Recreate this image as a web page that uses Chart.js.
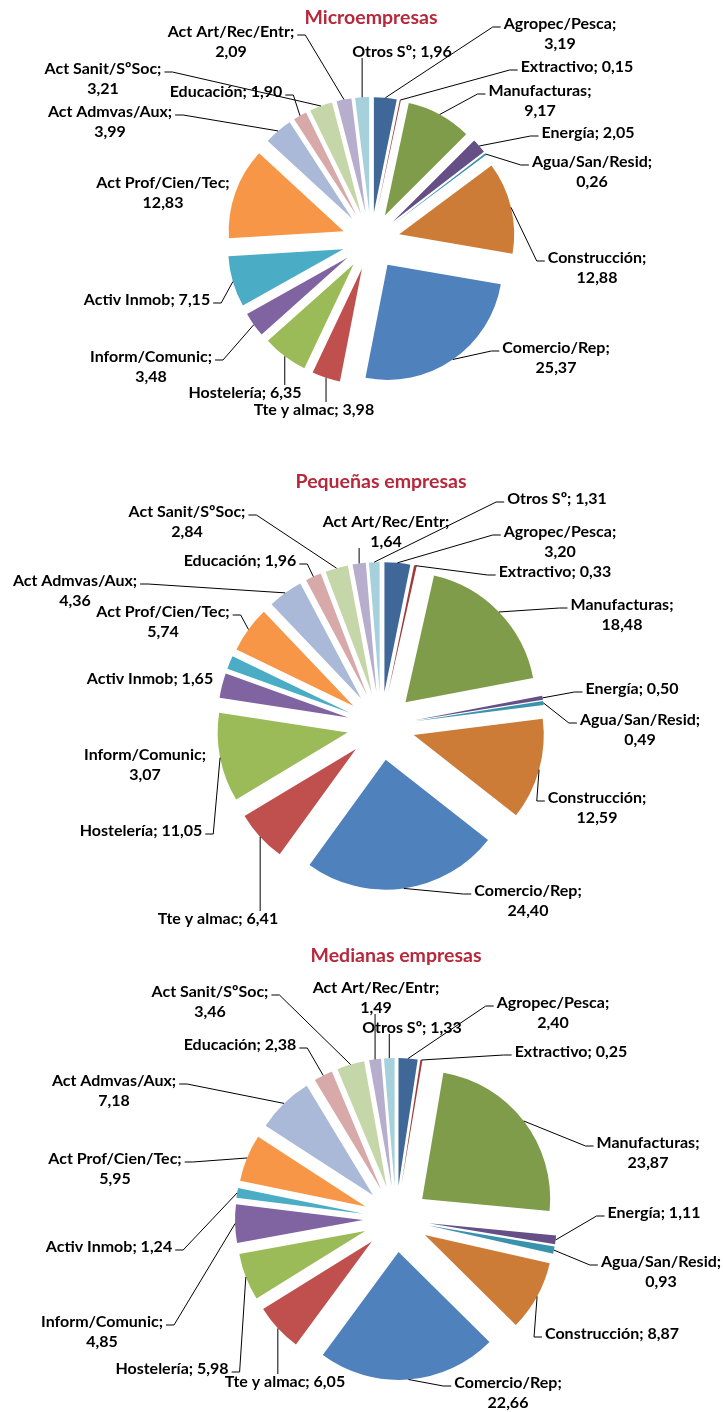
<!DOCTYPE html>
<html>
<head>
<meta charset="utf-8">
<script src="https://cdn.jsdelivr.net/npm/chart.js@4.4.0/dist/chart.umd.min.js"></script>
<style>
html, body { margin: 0; padding: 0; background: #fff; overflow: hidden; }
body { width: 723px; height: 1412px; position: relative; }
canvas { position: absolute; left: 0; }
</style>
</head>
<body>
<canvas id="micro" width="723" height="460" style="top:0px"></canvas>
<canvas id="peq" width="723" height="520" style="top:460px"></canvas>
<canvas id="med" width="723" height="560" style="top:930px"></canvas>
<script>
// sectores (mismo orden en las tres tartas)
var categories = ["Agropec/Pesca", "Extractivo", "Manufacturas", "Energía", "Agua/San/Resid",
  "Construcción", "Comercio/Rep", "Tte y almac", "Hostelería", "Inform/Comunic", "Activ Inmob",
  "Act Prof/Cien/Tec", "Act Admvas/Aux", "Educación", "Act Sanit/SºSoc", "Act Art/Rec/Entr", "Otros Sº"];

var microValues    = [3.19, 0.15, 9.17, 2.05, 0.26, 12.88, 25.37, 3.98, 6.35, 3.48, 7.15, 12.83, 3.99, 1.90, 3.21, 2.09, 1.96];
var pequenasValues = [3.20, 0.33, 18.48, 0.50, 0.49, 12.59, 24.40, 6.41, 11.05, 3.07, 1.65, 5.74, 4.36, 1.96, 2.84, 1.64, 1.31];
var medianasValues = [2.40, 0.25, 23.87, 1.11, 0.93, 8.87, 22.66, 6.05, 5.98, 4.85, 1.24, 5.95, 7.18, 2.38, 3.46, 1.49, 1.33];

var sliceColors = ["#3F6899", "#9E3B39", "#7F9C4A", "#654F86", "#3A93AC", "#CD7C38",
  "#4F81BD", "#C0504D", "#9BBB59", "#8064A2", "#4BACC6", "#F79646",
  "#A9B9D7", "#D8A9A9", "#C5D6A8", "#B7ADCC", "#A7D0DD"];

// posicion de las etiquetas respecto al centro de la tarta: [dx, dy, dos lineas, linea guia]
var microLabelPos = [
  [189, -217, true, true], [206, -174, false, true], [169, -150, true, true], [217, -108, false, true],
  [221, -79, true, true], [226, 17, true, true], [185, 107, true, true], [-57, 169, false, true],
  [-126, 152, false, true], [-220, 116, true, true], [-224, 59, false, true], [-208, -58, true, false],
  [-261, -129, true, true], [-145, -149, false, true], [-268, -172, true, true], [-140, -209, true, true],
  [31, -189, false, true]
];
var pequenasLabelPos = [
  [179, -194, true, true], [174, -154, false, true], [241, -121, true, true], [251, -37, false, true],
  [259, -6, true, true], [216, 72, true, true], [147, 165, true, true], [-163, 193, false, true],
  [-240, 105, false, true], [-236, 29, true, false], [-231, -47, false, false], [-218, -114, true, true],
  [-306, -145, true, true], [-141, -165, false, true], [-194, -214, true, true], [5, -204, true, true],
  [176, -227, false, true]
];
var medianasLabelPos = [
  [157, -216, true, true], [175, -167, false, true], [252, -76, true, true], [258, -6, false, true],
  [265, 43, true, true], [216, 115, false, true], [112, 164, true, true], [-111, 163, false, true],
  [-224, 150, false, true], [-294, 103, true, true], [-287, 28, false, true], [-281, -60, true, true],
  [-282, -138, true, true], [-156, -174, false, true], [-186, -227, true, true], [-20, -231, true, true],
  [16, -191, false, true]
];

// separa cada porcion del centro (tarta "explotada")
var explodePlugin = {
  id: 'explode',
  afterDatasetUpdate: function (chart, args, opts) {
    var d = opts.distance || 0;
    args.meta.data.forEach(function (el) {
      var mid = (el.startAngle + el.endAngle) / 2;
      el.x += Math.cos(mid) * d;
      el.y += Math.sin(mid) * d;
    });
  }
};

// etiquetas "Sector; valor" con lineas guia
var labelPlugin = {
  id: 'sliceLabels',
  afterDatasetsDraw: function (chart, args, opts) {
    var ctx = chart.ctx;
    var meta = chart.getDatasetMeta(0);
    var area = chart.chartArea;
    var cx = (area.left + area.right) / 2, cy = (area.top + area.bottom) / 2;
    var values = chart.data.datasets[0].data;
    var lh = opts.lineHeight;
    ctx.save();
    ctx.font = opts.font;
    ctx.fillStyle = '#000';
    ctx.strokeStyle = '#000';
    ctx.lineWidth = 1;
    ctx.textAlign = 'center';
    ctx.textBaseline = 'middle';
    meta.data.forEach(function (el, i) {
      var p = opts.pos[i];
      var name = chart.data.labels[i] + ';';
      var val = values[i].toFixed(2).replace('.', ',');
      var lines = p[2] ? [name, val] : [name + ' ' + val];
      var lx = cx + p[0], ly = cy + p[1];
      var w = Math.max.apply(null, lines.map(function (s) { return ctx.measureText(s).width; }));
      var box = { l: lx - w / 2, r: lx + w / 2, t: ly - lh / 2, b: ly + lh * (lines.length - 0.5) };
      if (p[3]) {
        var mid = (el.startAngle + el.endAngle) / 2;
        var ax = el.x + Math.cos(mid) * el.outerRadius;
        var ay = el.y + Math.sin(mid) * el.outerRadius;
        ctx.beginPath();
        ctx.moveTo(ax, ay);
        if (ax >= box.l && ax <= box.r) {
          ctx.lineTo(ax, ay < box.t ? box.t + 2 : box.b - 4);
        } else {
          var left = ax < box.l;
          var edge = left ? box.l - 3 : box.r + 3;
          var ey = ly + 3;
          ctx.lineTo(edge + (left ? -8 : 8), ey);
          ctx.lineTo(edge, ey);
        }
        ctx.stroke();
      }
      lines.forEach(function (s, k) { ctx.fillText(s, lx, ly + k * lh); });
    });
    ctx.restore();
  }
};

function makePie(id, values, labelPos, title, cx, cy, titleY, radius, explode) {
  var canvas = document.getElementById(id);
  var W = canvas.width, H = canvas.height;
  var titleSize = 19.5, titleLH = 1.2;
  var padTop = titleY - titleSize * titleLH / 2;
  var areaTop = padTop + titleSize * titleLH;
  var pb = areaTop + H - 2 * cy;
  var pl = 2 * cx - W;
  return new Chart(canvas, {
    type: 'pie',
    data: {
      labels: categories,
      datasets: [{
        data: values,
        backgroundColor: sliceColors,
        borderWidth: 0,
        radius: radius
      }]
    },
    options: {
      responsive: false,
      animation: false,
      events: [],
      layout: { padding: { left: Math.max(pl, 0), right: Math.max(-pl, 0), top: 0, bottom: pb } },
      plugins: {
        legend: { display: false },
        tooltip: { enabled: false },
        title: {
          display: true,
          text: title,
          color: '#B8283B',
          font: { family: 'Lato', size: titleSize, weight: 'bold', lineHeight: titleLH },
          padding: { top: padTop, bottom: 0 }
        },
        explode: { distance: explode },
        sliceLabels: { pos: labelPos, font: 'bold 16px Lato', lineHeight: 20 }
      }
    },
    plugins: [explodePlugin, labelPlugin]
  });
}

makePie('micro', microValues, microLabelPos, 'Microempresas', 371, 241, 18, 115, 29);
makePie('peq', pequenasValues, pequenasLabelPos, 'Pequeñas empresas', 381, 266, 21.7, 130, 34);
makePie('med', medianasValues, medianasLabelPos, 'Medianas empresas', 396, 289, 26, 128, 33);
</script>
</body>
</html>
